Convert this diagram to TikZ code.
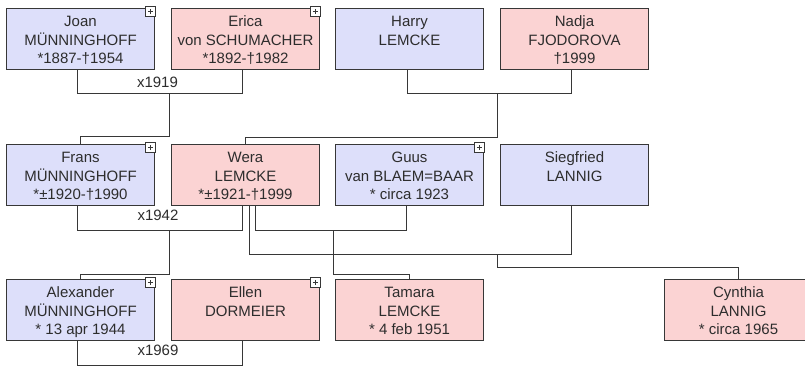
\documentclass[tikz,border=0pt]{standalone}
\usepackage{fontspec}
\setmainfont{Liberation Sans}
\definecolor{mblue}{RGB}{221,223,250}
\definecolor{fpink}{RGB}{251,211,211}
\definecolor{edgec}{RGB}{55,55,55}
\definecolor{txtc}{RGB}{45,45,45}
\tikzset{
  person/.style={draw=edgec, line width=1pt, minimum width=148pt, minimum height=61pt, inner sep=0pt, anchor=north west},
  male/.style={person, fill=mblue},
  female/.style={person, fill=fpink},
  nametext/.style={anchor=north, inner sep=0pt, align=center, text=txtc, font=\fontsize{15}{18.3}\selectfont},
  marr/.style={anchor=base, inner sep=0pt, text=txtc, font=\fontsize{15}{18.3}\selectfont},
  conn/.style={draw=edgec, line width=1pt},
  plusbox/.style={draw=edgec, fill=white, line width=0.9pt, minimum size=10pt, inner sep=0pt,
    path picture={\draw[edgec, line width=1pt]
      ([xshift=-2.6pt]path picture bounding box.center) -- ([xshift=2.6pt]path picture bounding box.center)
      ([yshift=-2.6pt]path picture bounding box.center) -- ([yshift=2.6pt]path picture bounding box.center);}},
}
\newcommand\person[5]{%
  \node[#2] (#1) at (#3,#4) {};
  \node[nametext] (#1-t) at ([yshift=-5.7pt]#1.north) {\strut #5};
}
\newcommand\plusmark[1]{\node[plusbox] (#1-p) at ([xshift=-4.5pt,yshift=-3.5pt]#1.north east) {};}
\begin{document}
\begin{tikzpicture}[x=1pt, y=-1pt]
\useasboundingbox[fill=white] (0,0) rectangle (805,365);
% generation 1
\person{joan}{male}{6}{8}{Joan\\MÜNNINGHOFF\\*1887-†1954}
\person{erica}{female}{171}{8}{Erica\\von SCHUMACHER\\*1892-†1982}
\person{harry}{male}{335}{8}{Harry\\LEMCKE}
\person{nadja}{female}{500}{8}{Nadja\\FJODOROVA\\†1999}
% generation 2
\person{frans}{male}{6}{144}{Frans\\MÜNNINGHOFF\\*±1920-†1990}
\person{wera}{female}{171}{144}{Wera\\LEMCKE\\*±1921-†1999}
\person{guus}{male}{335}{144}{Guus\\van BLAEM=BAAR\\* circa 1923}
\person{siegfried}{male}{500}{144}{Siegfried\\LANNIG}
% generation 3
\person{alexander}{male}{6}{279}{Alexander\\MÜNNINGHOFF\\* 13 apr 1944}
\person{ellen}{female}{171}{279}{Ellen\\DORMEIER}
\person{tamara}{female}{335}{279}{Tamara\\LEMCKE\\* 4 feb 1951}
\person{cynthia}{female}{664}{279}{Cynthia\\LANNIG\\* circa 1965}
% connectors
\draw[conn] ([xshift=-3pt]joan.south) -- ++(0,23) coordinate (m1) -| ([xshift=-3pt]erica.south);
\draw[conn] ([xshift=-2pt]erica.west |- m1) -- ++(0,43) -| (frans.north);
\draw[conn] ([xshift=-2pt]harry.south) -- ++(0,23) coordinate (m2) -| ([xshift=-3pt]nadja.south);
\draw[conn] ([xshift=-3pt]nadja.west |- m2) -- ++(0,44) -| (wera.north);
\draw[conn] ([xshift=-3pt]frans.south) -- ++(0,24) coordinate (m3) -| ([xshift=-3pt]wera.south);
\draw[conn] ([xshift=-2pt]wera.west |- m3) -- ++(0,44) -| (alexander.north);
\draw[conn] ([xshift=10pt]wera.south) -- ++(0,24) coordinate (m4) -| ([xshift=-3pt]guus.south);
\draw[conn] ([xshift=-2pt]guus.west |- m4) -- ++(0,44) -| (tamara.north);
\draw[conn] ([xshift=4pt]wera.south) -- ++(0,48) coordinate (m5) -| ([xshift=-3pt]siegfried.south);
\draw[conn] ([xshift=-3pt]siegfried.west |- m5) -- ++(0,13) -| (cynthia.north);
\draw[conn] ([xshift=-3pt]alexander.south) -- ++(0,24) coordinate (m6) -| ([xshift=-3pt]ellen.south);
% marriage years
\node[marr] (y1919) at (157.5,87.5) {x1919};
\node[marr] (y1942) at (158,220) {x1942};
\node[marr] (y1969) at (158,355) {x1969};
% expand marks
\plusmark{joan}
\plusmark{erica}
\plusmark{frans}
\plusmark{guus}
\plusmark{alexander}
\plusmark{ellen}
\end{tikzpicture}
\end{document}
